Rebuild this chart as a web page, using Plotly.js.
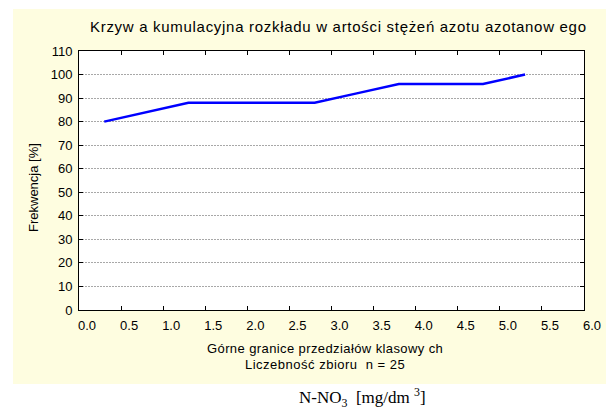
<!DOCTYPE html>
<html>
<head>
<meta charset="utf-8">
<script src="https://cdn.plot.ly/plotly-3.0.1.min.js"></script>
<style>html,body{margin:0;padding:0;background:#fff}#chart{width:606px;height:411px}</style>
</head>
<body>
<div id="chart"></div>
<script>
// Upper class boundaries [mg/dm3] and cumulative frequency [%]
const upperBounds = [0.3, 0.8, 1.3, 1.8, 2.3, 2.8, 3.3, 3.8, 4.3, 4.8, 5.3];
const cumFreq = [80, 84, 88, 88, 88, 88, 92, 96, 96, 96, 100];
const xTicks = [0, 0.5, 1, 1.5, 2, 2.5, 3, 3.5, 4, 4.5, 5, 5.5, 6];
const xTickLabels = ["0.0","0.5","1.0","1.5","2.0","2.5","3.0","3.5","4.0","4.5","5.0","5.5","6.0"];
const yTicks = [0,10,20,30,40,50,60,70,80,90,100,110];

const chartTitle = "Krzyw a kumulacyjna rozkładu w artości stężeń azotu azotanow ego";
const xTitle = "Górne granice przedziałów klasowy ch";
const sampleNote = "Liczebność zbioru&nbsp;&nbsp;n = 25";
const unitLabel = "N-NO<sub>3</sub>&nbsp;&nbsp;[mg/dm <sup>3</sup>]";
const yTitle = "Frekwencja [%]";

const L = 79, R = 584, T = 51, B = 310, W = 606, H = 411;
const pw = R - L, ph = B - T;
const px = x => (x - L) / pw;
const py = y => (B - y) / ph;
const spaced = (t, ls) => '<span style="letter-spacing:' + ls + 'px">' + t + '</span>';

const trace = {
  x: upperBounds, y: cumFreq, type: 'scatter', mode: 'lines',
  line: {color: '#0000ff', width: 2.5}, hoverinfo: 'none'
};

const font = {family: 'Arial, Liberation Sans, sans-serif', color: '#000'};

const layout = {
  width: W, height: H,
  margin: {l: L, r: W - R, t: T, b: H - B, pad: 0},
  paper_bgcolor: '#ffffff', plot_bgcolor: '#ffffff',
  showlegend: false,
  font: Object.assign({size: 13}, font),
  xaxis: {
    range: [0, 6], tickvals: xTicks, ticktext: xTickLabels,
    showgrid: false, zeroline: false,
    showline: true, linecolor: '#000', linewidth: 1, mirror: 'allticks',
    ticks: 'inside', ticklen: 4, tickcolor: '#000',
    ticklabelshift: 8, ticklabelstandoff: 3,
    tickfont: Object.assign({size: 13}, font)
  },
  yaxis: {
    range: [0, 110], tickvals: yTicks,
    showgrid: true, gridcolor: '#a8a8a8', griddash: '2px,1px', gridwidth: 1,
    zeroline: false,
    showline: true, linecolor: '#000', linewidth: 1, mirror: 'allticks',
    ticks: 'inside', ticklen: 4, tickcolor: '#000',
    ticklabelstandoff: 3,
    tickfont: Object.assign({size: 13}, font)
  },
  shapes: [
    {type: 'rect', xref: 'paper', yref: 'paper', layer: 'below',
     x0: px(13), x1: px(606), y0: py(384), y1: py(9),
     fillcolor: '#fefde0', line: {width: 0}},
    {type: 'rect', xref: 'paper', yref: 'paper', layer: 'below',
     x0: 0, x1: 1, y0: 0, y1: 1,
     fillcolor: '#ffffff', line: {width: 0}}
  ],
  annotations: [
    {text: spaced(chartTitle, 0.7), xref: 'paper', yref: 'paper', x: px(338.5), y: py(27),
     showarrow: false, xanchor: 'center', yanchor: 'middle',
     font: Object.assign({size: 15}, font)},
    {text: spaced(xTitle, 0.4), xref: 'paper', yref: 'paper', x: px(325), y: py(348),
     showarrow: false, xanchor: 'center', yanchor: 'middle',
     font: Object.assign({size: 13}, font)},
    {text: spaced(sampleNote, 0.5), xref: 'paper', yref: 'paper', x: px(325), y: py(364),
     showarrow: false, xanchor: 'center', yanchor: 'middle',
     font: Object.assign({size: 13}, font)},
    {text: unitLabel, xref: 'paper', yref: 'paper', x: px(362), y: py(397),
     showarrow: false, xanchor: 'center', yanchor: 'middle',
     font: {family: 'Liberation Serif, Times New Roman, serif', size: 17, color: '#000'}},
    {text: yTitle, xref: 'paper', yref: 'paper', x: px(33), y: py(188),
     showarrow: false, xanchor: 'center', yanchor: 'middle', textangle: -90,
     font: Object.assign({size: 13}, font)}
  ]
};

Plotly.newPlot('chart', [trace], layout, {staticPlot: true, displayModeBar: false});
</script>
</body>
</html>
